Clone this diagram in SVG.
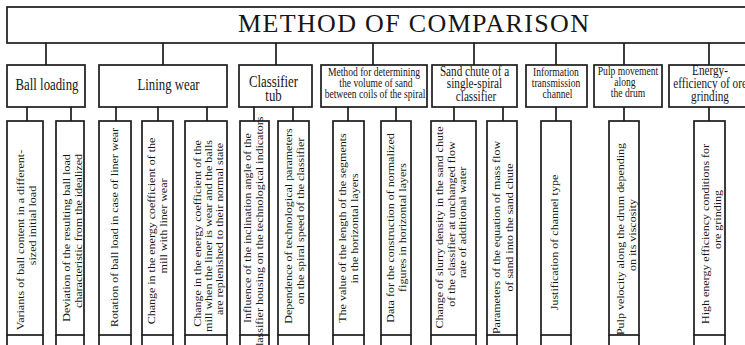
<svg xmlns="http://www.w3.org/2000/svg" width="745" height="345" viewBox="0 0 745 345">
<style>
.box{fill:#fff;stroke:#1c1c1c;stroke-width:1.7}
.ln{stroke:#1c1c1c;stroke-width:1.7;fill:none}
text{font-family:"Liberation Serif","Times New Roman",serif;fill:#161616;text-anchor:middle}
.cl{font-size:12px}
.t16{font-size:16px}
.t14{font-size:14px}
.t12{font-size:12px}
</style>
<rect width="745" height="345" fill="#fff"/>
<g id="title">
<rect class="box" x="7" y="7" width="750" height="36"/>
<text x="413.5" y="32" font-size="26" textLength="351" lengthAdjust="spacing">METHOD OF COMPARISON</text>
</g>
<g id="connectors">
<path class="ln" d="M46 43V65M163 43V65M276 43V65M373 43V65M474 43V65M556 43V65M624 43V65M709 43V65"/>
<path class="ln" d="M27 107V121M71 107V121M116 107V121M158 107V121M207 107V121M254 107V121M293 107V121M348 107V121M396 107V121M454 107V121M503 107V121M556 107V121M624 107V121M709 107V121"/>
</g>
<g id="cat-ball"><rect class="box" x="7" y="65" width="78" height="42"/>
<text class="t16" transform="translate(47,89.5) scale(0.8,1)">Ball loading</text></g>
<g id="cat-lining"><rect class="box" x="99" y="65" width="128" height="42"/>
<text class="t16" transform="translate(168.5,90) scale(0.8,1)">Lining wear</text></g>
<g id="cat-classifier"><rect class="box" x="239" y="65" width="73" height="42"/>
<text class="t16" transform="translate(273.5,86.5) scale(0.8,1)">Classifier</text>
<text class="t16" transform="translate(273.5,100.5) scale(0.8,1)">tub</text></g>
<g id="cat-method"><rect class="box" x="321" y="65" width="106" height="42"/>
<text class="t12" transform="translate(374,76) scale(0.8,1)">Method for determining</text>
<text class="t12" transform="translate(376,87) scale(0.8,1)">the volume of sand</text>
<text class="t12" transform="translate(375,97.5) scale(0.8,1)">between coils of the spiral</text></g>
<g id="cat-sand"><rect class="box" x="432" y="65" width="85" height="42"/>
<text class="t14" transform="translate(474.5,75.5) scale(0.8,1)">Sand chute of a</text>
<text class="t14" transform="translate(474.5,88) scale(0.8,1)">single-spiral</text>
<text class="t14" transform="translate(476,100.5) scale(0.8,1)">classifier</text></g>
<g id="cat-info"><rect class="box" x="526" y="65" width="61" height="42"/>
<text class="t12" transform="translate(556,76) scale(0.8,1)">Information</text>
<text class="t12" transform="translate(556,87) scale(0.8,1)">transmission</text>
<text class="t12" transform="translate(557.5,97.5) scale(0.8,1)">channel</text></g>
<g id="cat-pulp"><rect class="box" x="594" y="65" width="68" height="42"/>
<text class="t12" transform="translate(628,75) scale(0.8,1)">Pulp movement</text>
<text class="t12" transform="translate(625,86) scale(0.8,1)">along</text>
<text class="t12" transform="translate(628,97) scale(0.8,1)">the drum</text></g>
<g id="cat-energy"><rect class="box" x="669" y="65" width="90" height="42"/>
<text class="t14" transform="translate(710,75) scale(0.8,1)">Energy-</text>
<text class="t14" transform="translate(710,88) scale(0.8,1)">efficiency of ore</text>
<text class="t14" transform="translate(710,100.5) scale(0.8,1)">grinding</text></g>

<g id="child-1"><rect class="box" x="7" y="121" width="36" height="214"/><path class="ln" d="M7 335V345M43 335V345"/>
<text class="cl" transform="translate(24,240) scale(0.8,1) rotate(-90)">Variants of ball content in a different-</text>
<text class="cl" transform="translate(36,225.5) scale(0.8,1) rotate(-90)">sized initial load</text></g>
<g id="child-2"><rect class="box" x="56" y="121" width="28" height="214"/><path class="ln" d="M56 335V345M84 335V345"/>
<text class="cl" transform="translate(70,238) scale(0.8,1) rotate(-90)">Deviation of the resulting ball load</text>
<text class="cl" transform="translate(81.6,231) scale(0.8,1) rotate(-90)">characteristic from the idealized</text></g>
<g id="child-3"><rect class="box" x="99" y="121" width="32" height="214"/><path class="ln" d="M99 335V345M131 335V345"/>
<text class="cl" transform="translate(118.3,227.5) scale(0.8,1) rotate(-90)">Rotation of ball load in case of liner wear</text></g>
<g id="child-4"><rect class="box" x="142" y="121" width="31" height="214"/><path class="ln" d="M142 335V345M173 335V345"/>
<text class="cl" transform="translate(155,231) scale(0.8,1) rotate(-90)">Change in the energy coefficient of the</text>
<text class="cl" transform="translate(167.3,226) scale(0.8,1) rotate(-90)">mill with liner wear</text></g>
<g id="child-5"><rect class="box" x="185" y="121" width="42" height="214"/><path class="ln" d="M185 335V345M227 335V345"/>
<text class="cl" transform="translate(201.3,233.5) scale(0.8,1) rotate(-90)">Change in the energy coefficient of the</text>
<text class="cl" transform="translate(212.3,236) scale(0.8,1) rotate(-90)">mill when the liner is wear and the balls</text>
<text class="cl" transform="translate(223.3,229) scale(0.8,1) rotate(-90)">are replenished to their normal state</text></g>
<g id="child-6"><rect class="box" x="240" y="121" width="29" height="214"/><path class="ln" d="M240 335V345M269 335V345"/>
<text class="cl" transform="translate(251,228) scale(0.8,1) rotate(-90)">Influence of the inclination angle of the</text>
<text class="cl" transform="translate(263,234) scale(0.8,1) rotate(-90)">classifier housing on the technological indicators</text></g>
<g id="child-7"><rect class="box" x="278" y="121" width="31" height="214"/><path class="ln" d="M278 335V345M309 335V345"/>
<text class="cl" transform="translate(292.3,226) scale(0.8,1) rotate(-90)">Dependence of technological parameters</text>
<text class="cl" transform="translate(304.3,221) scale(0.8,1) rotate(-90)">on the spiral speed of the classifier</text></g>
<g id="child-8"><rect class="box" x="333" y="121" width="31" height="214"/><path class="ln" d="M333 335V345M364 335V345"/>
<text class="cl" transform="translate(346.3,228) scale(0.8,1) rotate(-90)">The value of the length of the segments</text>
<text class="cl" transform="translate(358.3,228.5) scale(0.8,1) rotate(-90)">in the horizontal layers</text></g>
<g id="child-9"><rect class="box" x="381" y="121" width="30" height="214"/><path class="ln" d="M381 335V345M411 335V345"/>
<text class="cl" transform="translate(394.3,228) scale(0.8,1) rotate(-90)">Data for the construction of normalized</text>
<text class="cl" transform="translate(406.3,227.5) scale(0.8,1) rotate(-90)">figures in horizontal layers</text></g>
<g id="child-10"><rect class="box" x="431" y="121" width="45" height="214"/><path class="ln" d="M431 335V345M476 335V345"/>
<text class="cl" transform="translate(443.3,227.5) scale(0.8,1) rotate(-90)">Change of slurry density in the sand chute</text>
<text class="cl" transform="translate(455.3,224) scale(0.8,1) rotate(-90)">of the classifier at unchanged flow</text>
<text class="cl" transform="translate(466.3,222.5) scale(0.8,1) rotate(-90)">rate of additional water</text></g>
<g id="child-11"><rect class="box" x="487" y="121" width="30" height="214"/><path class="ln" d="M487 335V345M517 335V345"/>
<text class="cl" transform="translate(500.3,237.5) scale(0.8,1) rotate(-90)">Parameters of the equation of mass flow</text>
<text class="cl" transform="translate(513.3,227.5) scale(0.8,1) rotate(-90)">of sand into the sand chute</text></g>
<g id="child-12"><rect class="box" x="541" y="121" width="30" height="214"/><path class="ln" d="M541 335V345M571 335V345"/>
<text class="cl" transform="translate(558.3,242.5) scale(0.8,1) rotate(-90)">Justification of channel type</text></g>
<g id="child-13"><rect class="box" x="609" y="121" width="30" height="214"/><path class="ln" d="M609 335V345M639 335V345"/>
<text class="cl" transform="translate(624.3,239) scale(0.8,1) rotate(-90)">Pulp velocity along the drum depending</text>
<text class="cl" transform="translate(636.3,235) scale(0.8,1) rotate(-90)">on its viscosity</text></g>
<g id="child-14"><rect class="box" x="694" y="121" width="31" height="214"/><path class="ln" d="M694 335V345M725 335V345"/>
<text class="cl" transform="translate(709.3,234) scale(0.8,1) rotate(-90)">High energy efficiency conditions for</text>
<text class="cl" transform="translate(721.3,219.5) scale(0.8,1) rotate(-90)">ore grinding</text></g>
</svg>
